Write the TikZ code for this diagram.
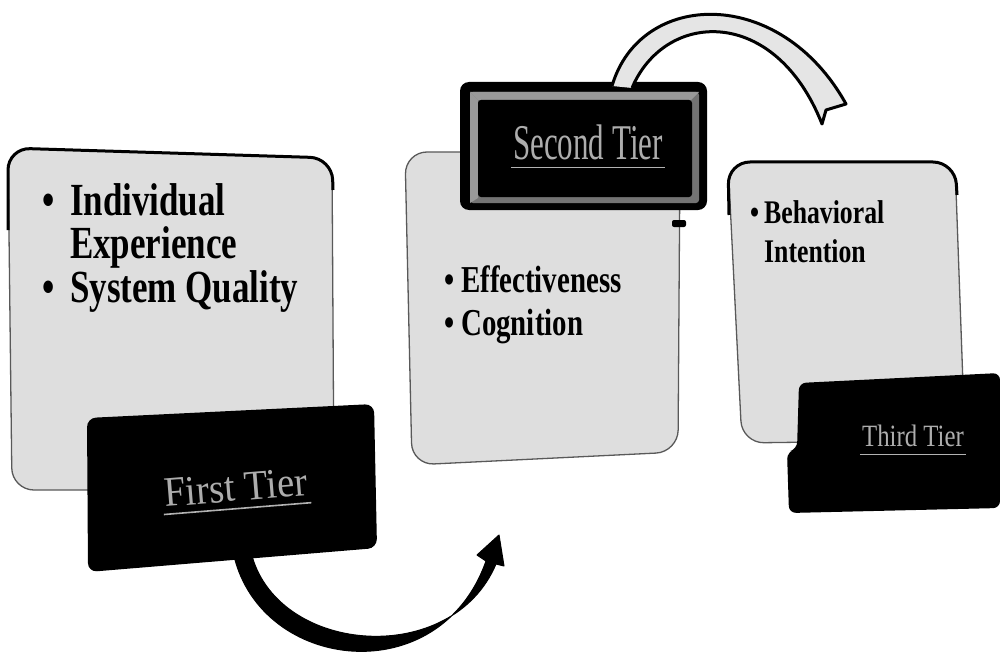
\documentclass[tikz,border=0pt]{standalone}
\usepackage{fontspec}
\setmainfont{Liberation Serif}
\newfontfamily\fA[FakeStretch=0.76]{Liberation Serif}
\newfontfamily\fB[FakeStretch=0.78]{Liberation Serif}
\newfontfamily\tA[FakeStretch=0.92]{Liberation Serif}
\newfontfamily\tB[FakeStretch=0.62]{Liberation Serif}
\newfontfamily\tC[FakeStretch=0.80]{Liberation Serif}
\usetikzlibrary{calc}
\tikzset{
  lightbox/.style={fill=black!13, draw=black!65, line width=1.3pt, rounded corners=22pt},
  topedge/.style={draw=black, line width=3pt, rounded corners=22pt},
  darkbox/.style={fill=black, rounded corners=9pt},
  itemA/.style={anchor=base west, inner sep=0pt, font=\fA\bfseries\fontsize{46}{50}\selectfont},
  itemB/.style={anchor=base west, inner sep=0pt, font=\fA\bfseries\fontsize{38}{42}\selectfont},
  itemC/.style={anchor=base west, inner sep=0pt, font=\fB\bfseries\fontsize{33}{37}\selectfont},
  tierlbl/.style={anchor=base, text=black!32, inner xsep=2pt},
  tierline/.style={draw=black!30, line width=1.6pt},
  solidarrow/.style={fill=black, draw=black, line width=1pt, line join=round},
  hollowarrow/.style={fill=black!10, draw=black, line width=3pt, line join=round}
}
\begin{document}
\begin{tikzpicture}[x=1pt,y=-1pt]
\useasboundingbox (0,0) rectangle (1000,655);

% ---------- light panels ----------
\path[lightbox] (12,490) -- (8,148) -- (332,158) -- (334,490) -- cycle;
\path[topedge] (8,230) -- (8,148) -- (332,158) -- (333,190);
\path[lightbox] (412,465) -- (405,152) -- (680,152) -- (678,452) -- cycle;
\path[lightbox] (742,443) -- (728,162) -- (955,162) -- (965,440) -- cycle;
\path[topedge] (729,215) -- (728,162) -- (955,162) -- (957,195);

% ---------- item texts ----------
\node[itemA] (i1) at (42,215) {\makebox[28pt][l]{•}Individual};
\node[itemA] (i2) at (70,258) {Experience};
\node[itemA] (i3) at (42,302) {\makebox[28pt][l]{•}System Quality};
\node[itemB] (e1) at (444,292) {\makebox[17pt][l]{•}Effectiveness};
\node[itemB] (e2) at (444,335) {\makebox[17pt][l]{•}Cognition};
\node[itemC] (b1) at (750,223) {\makebox[14pt][l]{•}Behavioral};
\node[itemC] (b2) at (764,262) {Intention};

% ---------- First Tier ----------
\path[darkbox] (87,418) -- (374,404) -- (377,548) -- (88,572) -- cycle;
\node[tierlbl, inner ysep=7pt, rotate=4.6, font=\tA\fontsize{42}{46}\selectfont] (ft) at (237,501) {First Tier};
\path[tierline] (ft.south west) -- (ft.south east);

% ---------- Second Tier ----------
\path[darkbox] (460,82) rectangle (707,210);
\path[fill=black!55, rounded corners=3pt] (470,92) rectangle (699,203);
\path[fill=black!40] (470,92) -- (699,92) -- (691,100) -- (478,100) -- cycle;
\path[fill=black!40] (470,92) -- (478,100) -- (478,198) -- (470,203) -- cycle;
\path[fill=black, rounded corners=3pt] (478,100) rectangle (692,197);
\node[tierlbl, inner ysep=7pt, font=\tB\fontsize{50}{54}\selectfont] (st) at (588,160) {Second Tier};
\path[tierline] (st.south west) -- (st.south east);
\path[fill=black, rounded corners=2pt] (672,220) rectangle (686,227);

% ---------- Third Tier ----------
\path[darkbox, rounded corners=7pt] (799,383) -- (1000,373) -- (1000,508) -- (789,513) -- (787,452) -- (797,449) -- cycle;
\node[tierlbl, inner ysep=8pt, font=\tC\fontsize{31}{35}\selectfont] (tt) at (913,446) {Third Tier};
\path[tierline, line width=1.2pt] (tt.south west) -- (tt.south east);

% ---------- arrow from First Tier ----------
\coordinate (a1s) at (234,556);
\coordinate (a1e) at (499,535);
\path[solidarrow] (a1s) .. controls (262,672) and (440,692) .. (486,561)
   -- (477,555) -- (a1e) -- (504,566) -- (496,564)
   .. controls (452,668) and (280,655) .. (252,556) -- cycle;

% ---------- arrow from Second Tier ----------
\coordinate (a2s) at (612,86);
\coordinate (a2e) at (846,104);
\path[hollowarrow] (a2s) .. controls (640,-10) and (780,-15) .. (a2e)
   -- (826,110) -- (822,124) .. controls (775,5) and (665,10) .. (632,88);
\end{tikzpicture}
\end{document}
